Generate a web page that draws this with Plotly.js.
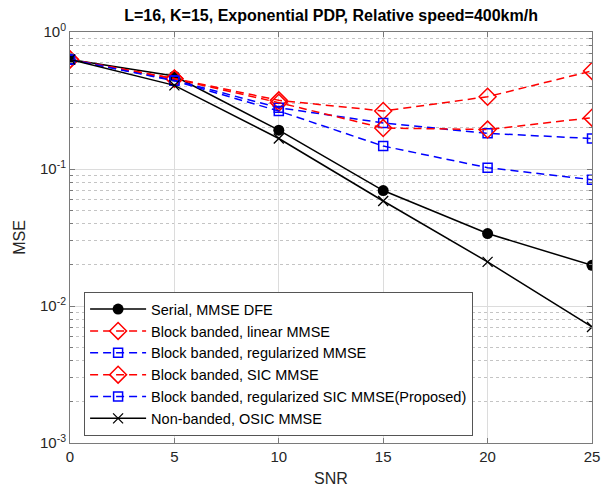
<!DOCTYPE html>
<html>
<head>
<meta charset="utf-8">
<script src="https://cdn.plot.ly/plotly-3.0.1.min.js"></script>
<style>html,body{margin:0;padding:0;background:#fff;}#chart{width:602px;height:496px;}</style>
</head>
<body>
<div id="chart"></div>
<script>
const snr = [0, 5, 10, 15, 20, 25];
const serialDFE = [0.63, 0.477, 0.192, 0.0696, 0.0338, 0.0198];
const bbLinear = [0.63, 0.458, 0.317, 0.265, 0.337, 0.52];
const bbRegMMSE = [0.63, 0.445, 0.28, 0.217, 0.182, 0.167];
const bbSIC = [0.63, 0.455, 0.305, 0.199, 0.194, 0.237];
const bbRegSIC = [0.63, 0.44, 0.265, 0.147, 0.1023, 0.0836];
const osic = [0.63, 0.408, 0.167, 0.0584, 0.0210, 0.00703];
const names = [
  "Serial, MMSE DFE",
  "Block banded, linear MMSE",
  "Block banded, regularized MMSE",
  "Block banded, SIC MMSE",
  "Block banded, regularized SIC MMSE(Proposed)",
  "Non-banded, OSIC MMSE"
];
const yTickVals = [1, 0.1, 0.01, 0.001];
const yTickText = ["10<sup>0</sup>", "10<sup>-1</sup>", "10<sup>-2</sup>", "10<sup>-3</sup>"];
const xTickVals = [0, 5, 10, 15, 20, 25];
const minorMult = [2, 3, 4, 5, 6, 7, 8, 9];
const yMinorVals = [];
[0.001, 0.01, 0.1].forEach(d => minorMult.forEach(m => yMinorVals.push(m * d)));

const dash = "8px,5px";
const traces = [
  {y: serialDFE, name: names[0], line: {color: "#000", width: 1.5}, marker: {symbol: "circle", size: 11, color: "#000"}},
  {y: bbLinear, name: names[1], line: {color: "#ff0000", width: 1.5, dash: dash}, marker: {symbol: "diamond-open", size: 13, color: "#ff0000", line: {width: 1.5}}},
  {y: bbRegMMSE, name: names[2], line: {color: "#0000ff", width: 1.5, dash: dash}, marker: {symbol: "square-open", size: 9, color: "#0000ff", line: {width: 1.5}}},
  {y: bbSIC, name: names[3], line: {color: "#ff0000", width: 1.5, dash: dash}, marker: {symbol: "diamond-open", size: 13, color: "#ff0000", line: {width: 1.5}}},
  {y: bbRegSIC, name: names[4], line: {color: "#0000ff", width: 1.5, dash: dash}, marker: {symbol: "square-open", size: 9, color: "#0000ff", line: {width: 1.5}}},
  {y: osic, name: names[5], line: {color: "#000", width: 1.5}, marker: {symbol: "x-thin-open", size: 10, color: "#000", line: {width: 1.3, color: "#000"}}}
].map(t => Object.assign({x: snr, type: "scatter", mode: "lines+markers"}, t));

const tickFont = {family: "Liberation Sans, Arial, sans-serif", size: 15, color: "#262626"};
const layout = {
  width: 602, height: 496,
  margin: {l: 70, r: 10, t: 32, b: 53},
  paper_bgcolor: "#fff", plot_bgcolor: "#fff",
  font: {family: "Liberation Sans, Arial, sans-serif", color: "#262626"},
  title: {text: "<b>L=16, K=15, Exponential PDP, Relative speed=400km/h</b>", font: {size: 16, color: "#000"}, x: 0.55, xanchor: "center", y: 0.968, yanchor: "middle", yref: "container", xref: "container"},
  xaxis: {
    range: [0, 25], tickmode: "array", tickvals: xTickVals, ticktext: xTickVals.map(String),
    showline: true, linecolor: "#7a7a7a", linewidth: 1, mirror: "allticks",
    ticks: "inside", ticklen: 5, tickcolor: "#7a7a7a",
    showgrid: true, gridcolor: "#dcdcdc", gridwidth: 1, zeroline: false,
    tickfont: tickFont,
    title: {text: "SNR", font: {size: 16, color: "#262626"}, standoff: 8}
  },
  yaxis: {
    type: "log", range: [-3, 0], tickmode: "array", tickvals: yTickVals, ticktext: yTickText,
    showline: true, linecolor: "#7a7a7a", linewidth: 1, mirror: "allticks",
    ticks: "inside", ticklen: 5, tickcolor: "#7a7a7a",
    showgrid: true, gridcolor: "#dcdcdc", gridwidth: 1, zeroline: false,
    tickfont: tickFont,
    minor: {tickmode: "array", tickvals: yMinorVals, ticks: "inside", ticklen: 3, tickcolor: "#7a7a7a", showgrid: true, gridcolor: "#c4c4c4", griddash: "dot", gridwidth: 1},
    title: {text: "MSE", font: {size: 16, color: "#262626"}, standoff: 10}
  },
  legend: {
    x: 0.027, y: 0.367, xanchor: "left", yanchor: "top",
    bgcolor: "#fff", bordercolor: "#555", borderwidth: 1,
    font: {size: 14.5, color: "#000"}, itemwidth: 56, tracegroupgap: 0
  },
  showlegend: true
};
Plotly.newPlot("chart", traces, layout, {displayModeBar: false, staticPlot: true});
</script>
</body>
</html>
